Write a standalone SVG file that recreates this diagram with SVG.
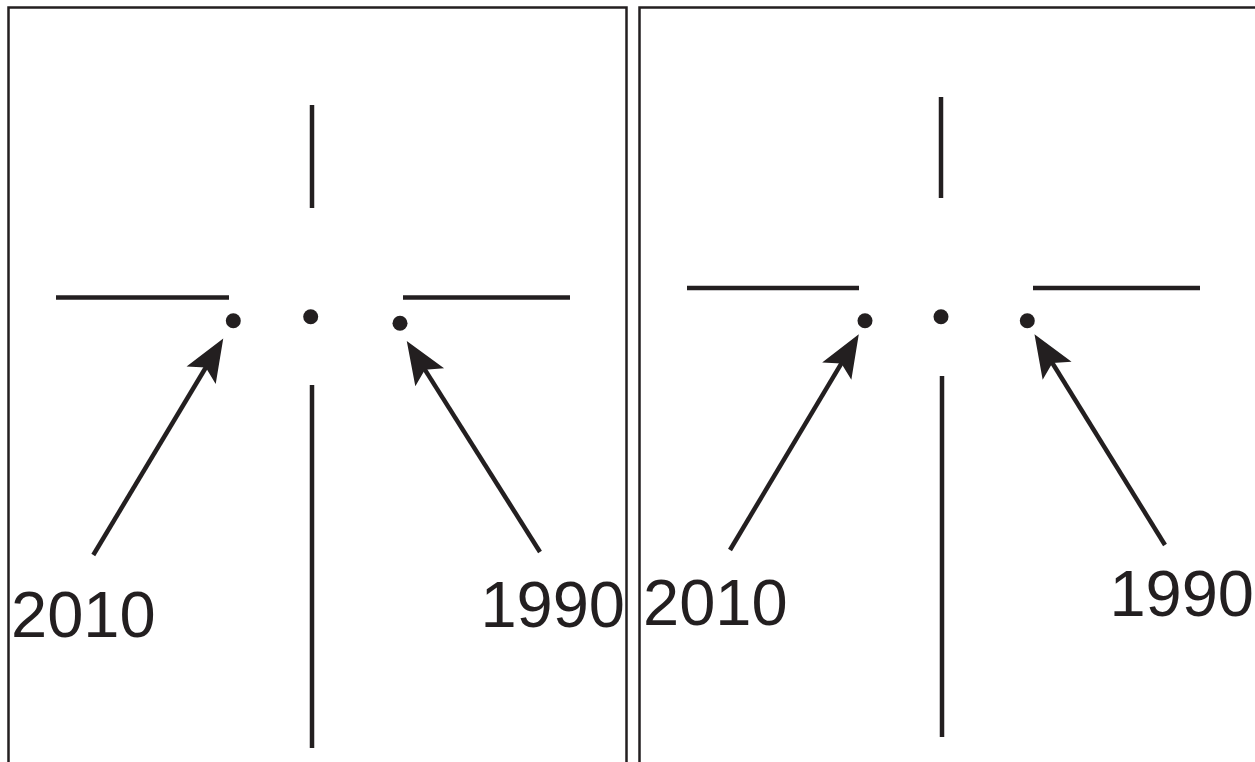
<svg xmlns="http://www.w3.org/2000/svg" width="1255" height="762" viewBox="0 0 1255 762">
  <style>
    .frame { fill: none; stroke: #231f20; stroke-width: 2.5; }
    .bar { stroke: #231f20; stroke-width: 4.5; fill: none; }
    .dot { fill: #231f20; }
    .arrow { stroke: #231f20; stroke-width: 4.5; fill: none; marker-end: url(#head); }
    .label { font-family: "Liberation Sans", Arial, sans-serif; font-size: 65px; fill: #231f20; }
  </style>
  <defs>
    <marker id="head" markerUnits="userSpaceOnUse" viewBox="-15 -20 50 40" markerWidth="50" markerHeight="40" refX="0" refY="0" orient="auto" overflow="visible">
      <path d="M31,0 L-12,-17 L-3,0 L-12,17 Z" fill="#231f20"/>
    </marker>
  </defs>

  <g id="panel-left">
    <path class="frame" d="M8.5,770 L8.5,7.5 L626.5,7.5 L626.5,770"/>
    <line class="bar" x1="312" y1="105" x2="312" y2="208"/>
    <line class="bar" x1="312" y1="385" x2="312" y2="748"/>
    <line class="bar" x1="56" y1="297.5" x2="229" y2="297.5"/>
    <line class="bar" x1="403" y1="297.5" x2="570" y2="297.5"/>
    <circle class="dot" cx="233.3" cy="320.7" r="7.5"/>
    <circle class="dot" cx="310.7" cy="316.7" r="7.5"/>
    <circle class="dot" cx="400" cy="323.3" r="7.5"/>
    <text class="label" x="11" y="637">2010</text>
    <text class="label" x="625" y="627" text-anchor="end">1990</text>
  </g>

  <g id="panel-right">
    <path class="frame" d="M639.5,770 L639.5,7.5 L1260,7.5"/>
    <line class="bar" x1="941" y1="97" x2="941" y2="198"/>
    <line class="bar" x1="942" y1="376" x2="942" y2="737"/>
    <line class="bar" x1="687" y1="288" x2="859" y2="288"/>
    <line class="bar" x1="1033" y1="288" x2="1200" y2="288"/>
    <circle class="dot" cx="865" cy="320.7" r="7.5"/>
    <circle class="dot" cx="941" cy="316.7" r="7.5"/>
    <circle class="dot" cx="1027.3" cy="320.7" r="7.5"/>
    <text class="label" x="643" y="625">2010</text>
    <text class="label" x="1254" y="616" text-anchor="end">1990</text>
  </g>

  <g id="connectors">
    <line class="arrow" x1="93.3" y1="555" x2="207.3" y2="365"/>
    <line class="arrow" x1="540" y1="552" x2="423.3" y2="367.1"/>
    <line class="arrow" x1="730" y1="550" x2="842.9" y2="360.8"/>
    <line class="arrow" x1="1165" y1="545" x2="1050.8" y2="360.5"/>
  </g>
</svg>
